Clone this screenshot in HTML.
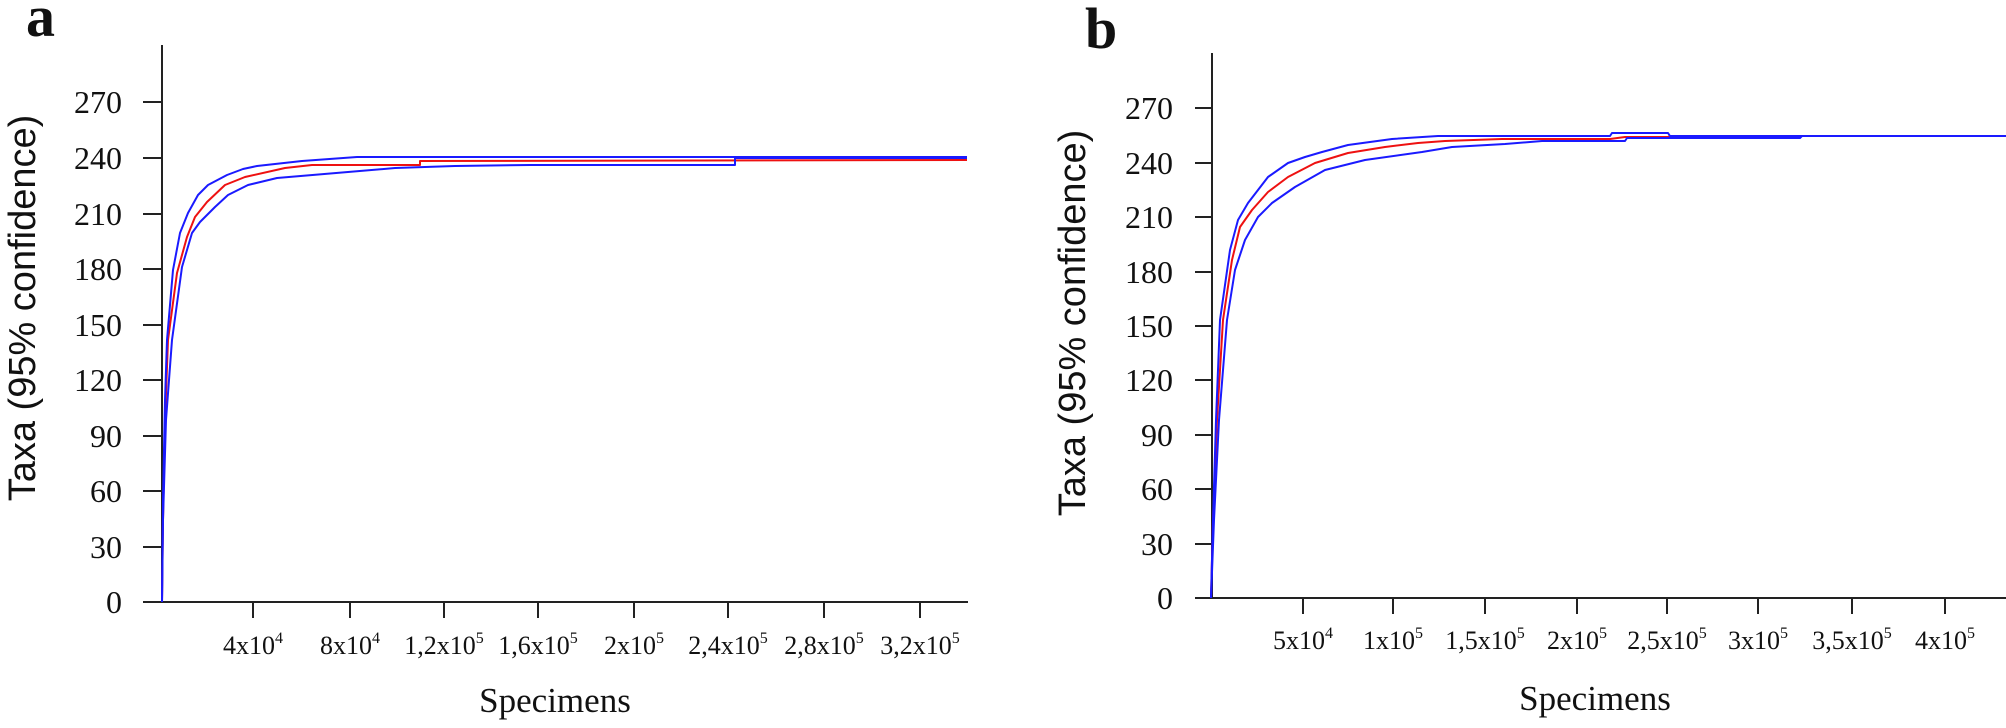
<!DOCTYPE html>
<html><head><meta charset="utf-8"><style>html,body{margin:0;padding:0;background:#fff}svg{display:block}</style></head>
<body>
<svg width="2006" height="728" viewBox="0 0 2006 728" xmlns="http://www.w3.org/2000/svg">
<g font-family="Liberation Serif, serif" fill="#111">
<text x="26" y="36" font-size="58" font-weight="bold">a</text>
<text x="1085" y="48" font-size="58" font-weight="bold">b</text>
</g>
<!-- Panel a axes -->
<g stroke="#222" stroke-width="2" fill="none">
<line x1="162" y1="45" x2="162" y2="603"/>
<line x1="160" y1="602" x2="968" y2="602"/>
<line x1="143" y1="602" x2="162" y2="602"/><line x1="143" y1="547" x2="162" y2="547"/><line x1="143" y1="491" x2="162" y2="491"/><line x1="143" y1="436" x2="162" y2="436"/><line x1="143" y1="380" x2="162" y2="380"/><line x1="143" y1="325" x2="162" y2="325"/><line x1="143" y1="269" x2="162" y2="269"/><line x1="143" y1="214" x2="162" y2="214"/><line x1="143" y1="158" x2="162" y2="158"/><line x1="143" y1="102" x2="162" y2="102"/>
<line x1="253" y1="602" x2="253" y2="618"/><line x1="350" y1="602" x2="350" y2="618"/><line x1="444" y1="602" x2="444" y2="618"/><line x1="538" y1="602" x2="538" y2="618"/><line x1="634" y1="602" x2="634" y2="618"/><line x1="728" y1="602" x2="728" y2="618"/><line x1="824" y1="602" x2="824" y2="618"/><line x1="920" y1="602" x2="920" y2="618"/>
</g>
<g font-family="Liberation Serif, serif" font-size="32" fill="#111" text-anchor="end">
<text x="122" y="613">0</text>
<text x="122" y="558">30</text>
<text x="122" y="502">60</text>
<text x="122" y="447">90</text>
<text x="122" y="391">120</text>
<text x="122" y="336">150</text>
<text x="122" y="280">180</text>
<text x="122" y="225">210</text>
<text x="122" y="169">240</text>
<text x="122" y="113">270</text>
</g>
<g font-family="Liberation Serif, serif" font-size="26" fill="#111" text-anchor="middle">
<text x="253" y="654">4x10<tspan font-size="16" dy="-11">4</tspan></text>
<text x="350" y="654">8x10<tspan font-size="16" dy="-11">4</tspan></text>
<text x="444" y="654">1,2x10<tspan font-size="16" dy="-11">5</tspan></text>
<text x="538" y="654">1,6x10<tspan font-size="16" dy="-11">5</tspan></text>
<text x="634" y="654">2x10<tspan font-size="16" dy="-11">5</tspan></text>
<text x="728" y="654">2,4x10<tspan font-size="16" dy="-11">5</tspan></text>
<text x="824" y="654">2,8x10<tspan font-size="16" dy="-11">5</tspan></text>
<text x="920" y="654">3,2x10<tspan font-size="16" dy="-11">5</tspan></text>
<text x="555" y="712" font-size="35">Specimens</text>
</g>
<g transform="translate(35 308) rotate(-90)"><text font-family="Liberation Sans, sans-serif" font-size="38" fill="#111" text-anchor="middle">Taxa (95% confidence)</text></g>
<!-- Panel a curves -->
<g fill="none" stroke-width="2" stroke-linejoin="round">
<polyline stroke="#ee1111" points="162,602 163,520 165,420 168,340 177,273 187,237 195,217 207,202 225,185 245,177 285,168 312,165 420,165 420,161 967,160"/>
<polyline stroke="#1a1aff" points="162,602 163,500 165,400 167,340 173,270 180,233 188,213 198,195 208,185 227,175 243,169 257,166 302,161 357,157 967,157"/>
<polyline stroke="#1a1aff" points="162,602 163,520 166,420 172,340 182,267 192,233 200,222 215,207 228,195 248,185 277,178 348,172 395,168 455,166 530,165 735,165 735,158 967,158"/>
</g>
<!-- Panel b axes -->
<g stroke="#222" stroke-width="2" fill="none">
<line x1="1212" y1="53" x2="1212" y2="599"/>
<line x1="1210" y1="598" x2="2006" y2="598"/>
<line x1="1195" y1="598" x2="1212" y2="598"/><line x1="1195" y1="544" x2="1212" y2="544"/><line x1="1195" y1="489" x2="1212" y2="489"/><line x1="1195" y1="435" x2="1212" y2="435"/><line x1="1195" y1="380" x2="1212" y2="380"/><line x1="1195" y1="326" x2="1212" y2="326"/><line x1="1195" y1="272" x2="1212" y2="272"/><line x1="1195" y1="217" x2="1212" y2="217"/><line x1="1195" y1="163" x2="1212" y2="163"/><line x1="1195" y1="108" x2="1212" y2="108"/>
<line x1="1303" y1="598" x2="1303" y2="614"/><line x1="1393" y1="598" x2="1393" y2="614"/><line x1="1485" y1="598" x2="1485" y2="614"/><line x1="1577" y1="598" x2="1577" y2="614"/><line x1="1667" y1="598" x2="1667" y2="614"/><line x1="1758" y1="598" x2="1758" y2="614"/><line x1="1852" y1="598" x2="1852" y2="614"/><line x1="1945" y1="598" x2="1945" y2="614"/>
</g>
<g font-family="Liberation Serif, serif" font-size="32" fill="#111" text-anchor="end">
<text x="1173" y="609">0</text>
<text x="1173" y="555">30</text>
<text x="1173" y="500">60</text>
<text x="1173" y="446">90</text>
<text x="1173" y="391">120</text>
<text x="1173" y="337">150</text>
<text x="1173" y="283">180</text>
<text x="1173" y="228">210</text>
<text x="1173" y="174">240</text>
<text x="1173" y="119">270</text>
</g>
<g font-family="Liberation Serif, serif" font-size="26" fill="#111" text-anchor="middle">
<text x="1303" y="649">5x10<tspan font-size="16" dy="-11">4</tspan></text>
<text x="1393" y="649">1x10<tspan font-size="16" dy="-11">5</tspan></text>
<text x="1485" y="649">1,5x10<tspan font-size="16" dy="-11">5</tspan></text>
<text x="1577" y="649">2x10<tspan font-size="16" dy="-11">5</tspan></text>
<text x="1667" y="649">2,5x10<tspan font-size="16" dy="-11">5</tspan></text>
<text x="1758" y="649">3x10<tspan font-size="16" dy="-11">5</tspan></text>
<text x="1852" y="649">3,5x10<tspan font-size="16" dy="-11">5</tspan></text>
<text x="1945" y="649">4x10<tspan font-size="16" dy="-11">5</tspan></text>
<text x="1595" y="710" font-size="35">Specimens</text>
</g>
<g transform="translate(1085 323) rotate(-90)"><text font-family="Liberation Sans, sans-serif" font-size="38" fill="#111" text-anchor="middle">Taxa (95% confidence)</text></g>
<!-- Panel b curves -->
<g fill="none" stroke-width="2" stroke-linejoin="round">
<polyline stroke="#ee1111" points="1211,598 1213,520 1217,420 1223,320 1232,260 1240,227 1252,210 1268,192 1288,177 1315,163 1348,153 1385,147 1418,143 1445,141 1502,139 1610,139 1625,137 1668,137 1670,136 2006,136"/>
<polyline stroke="#1a1aff" points="1211,598 1213,520 1216,420 1220,320 1230,250 1238,220 1248,203 1258,190 1268,177 1288,163 1305,157 1322,152 1348,145 1392,139 1438,136 1610,136 1612,133 1668,133 1670,136 2006,136"/>
<polyline stroke="#1a1aff" points="1211,598 1214,520 1219,420 1227,320 1235,270 1245,240 1258,217 1272,203 1295,187 1325,170 1365,160 1422,152 1452,147 1505,144 1542,141 1625,141 1627,138 1800,138 1802,136 2006,136"/>
</g>
</svg>
</body></html>
